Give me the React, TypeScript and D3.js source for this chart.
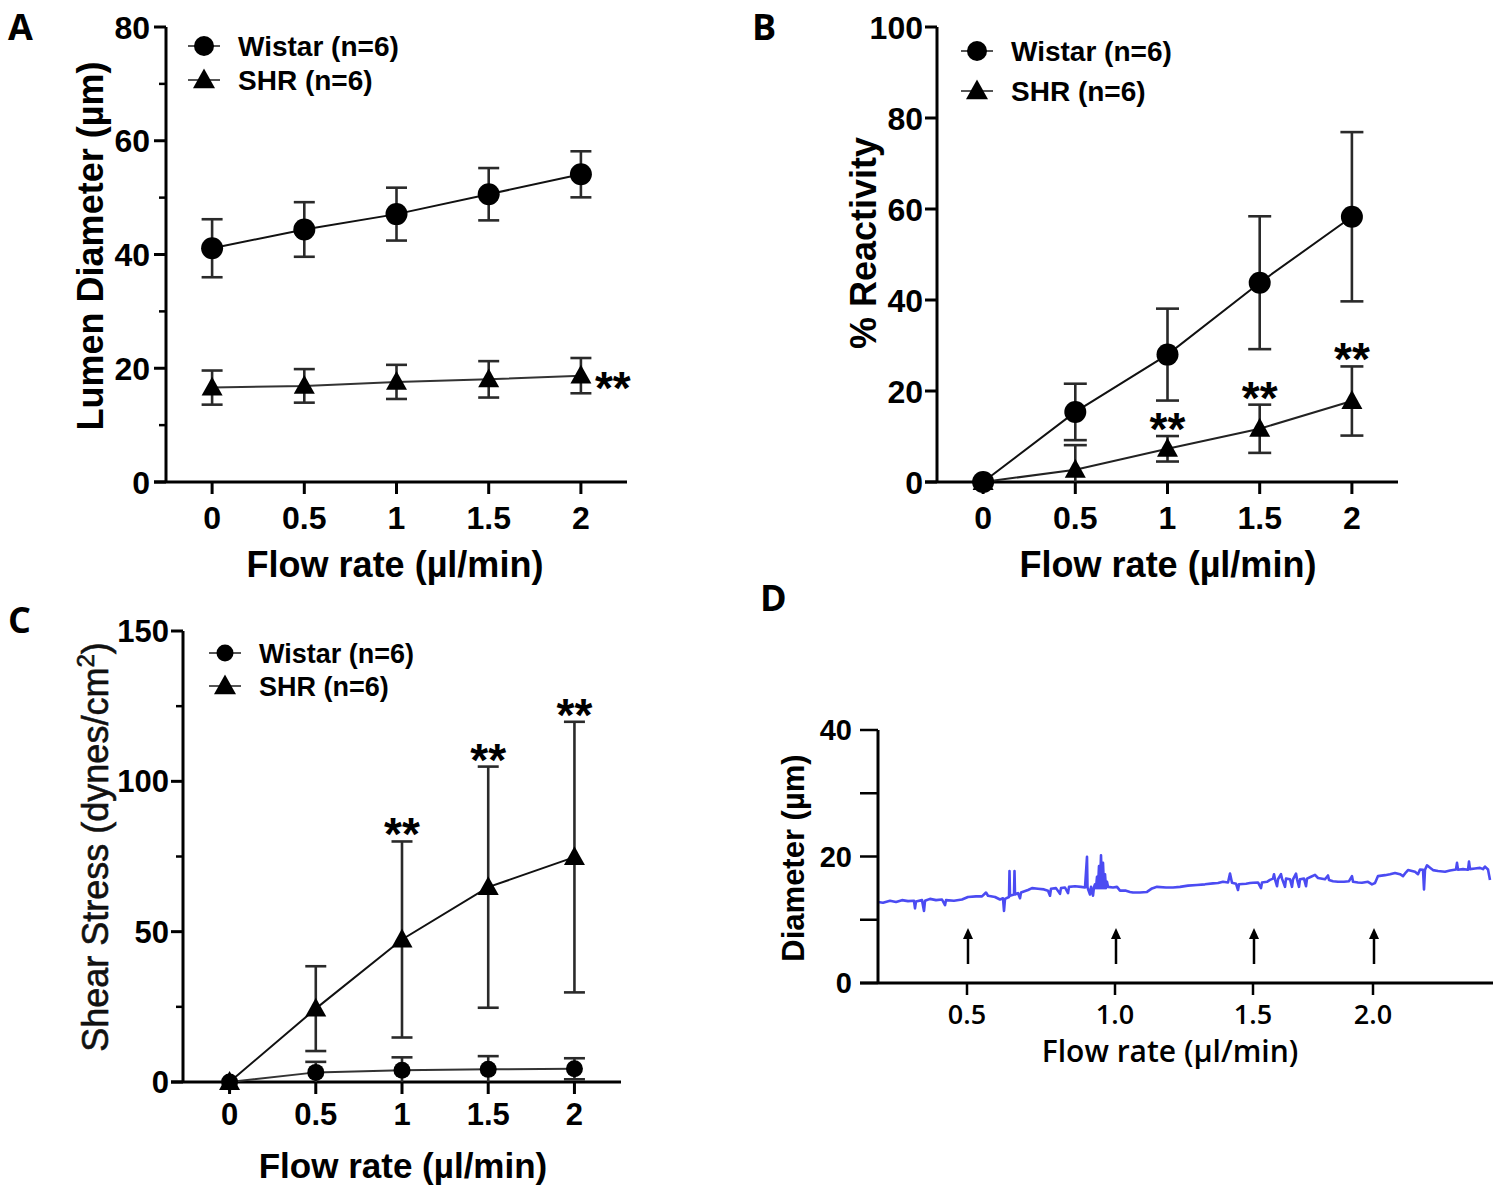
import React from "react";
import * as d3 from "d3";

// ---------- Data ----------
const flowRates = [0, 0.5, 1, 1.5, 2];
const flowTickLabels = ["0", "0.5", "1", "1.5", "2"];

// Panel A: lumen diameter (µm)
const lumenWistar = [41.1, 44.4, 47.1, 50.6, 54.1];
const lumenWistarErr = [5.1, 4.8, 4.65, 4.6, 4.05];
const lumenShr = [16.6, 16.9, 17.6, 18.05, 18.7];
const lumenShrErr = [3.0, 2.95, 3.0, 3.2, 3.1];
const lumenSig = [4];

// Panel B: % reactivity
const reactWistar = [0, 15.4, 28.0, 43.8, 58.3];
const reactWistarErr = [0, 6.2, 10.1, 14.6, 18.6];
const reactShr = [0, 2.7, 7.3, 11.7, 17.8];
const reactShrErr = [0, 5.4, 2.8, 5.3, 7.6];
const reactSig = [2, 3, 4];

// Panel C: shear stress (dynes/cm2)
const shearWistar = [0, 3.2, 3.9, 4.2, 4.4];
const shearWistarErr = [0, 3.5, 4.3, 4.4, 3.5];
const shearShr = [0, 24.4, 47.4, 64.8, 74.8];
const shearShrErr = [0, 14.1, 32.6, 40.1, 45.0];
const shearSig = [2, 3, 4];

// Panel D: diameter trace (recording time, µm)
const traceTime = [
  0, 5, 12, 18, 24, 30, 36, 37, 38, 44, 46, 47, 52, 58, 64, 67, 68, 76, 84, 90,
  98, 104, 108, 110, 117, 122, 125, 126, 127, 131, 131.5, 132, 136, 136.5, 137, 140, 142, 143, 150, 154,
  160, 166, 170, 172, 173, 178, 182, 183, 187, 190, 191, 197, 203, 207, 209, 209.5, 212, 213, 215, 216,
  217, 218, 219, 220, 221, 222, 223, 224, 225, 226, 227, 228, 229, 230, 235, 239, 242, 248, 252, 255,
  262, 269, 274, 279, 288, 295, 302, 310, 319, 327, 335, 340, 345, 350, 352, 354, 358, 360, 361, 368,
  372, 375, 380, 383, 384, 389, 392, 395, 396, 397, 399, 400, 403, 404, 407, 408, 412, 414, 415, 418,
  419, 421, 422, 426, 428, 429, 433, 437, 440, 447, 450, 451, 455, 460, 466, 471, 474, 475, 480, 484,
  490, 494, 497, 500, 507, 512, 517, 522, 525, 528, 530, 537, 540, 542, 545, 546, 547, 549, 553, 555,
  560, 567, 572, 578, 579, 580, 585, 590, 591, 592, 597, 602, 605, 607, 610, 612,
];
const traceDiameter = [
  12.8, 12.7, 13.0, 12.8, 13.1, 12.95, 13.0, 11.8, 12.9, 13.1, 11.4, 13.0, 13.3, 13.1, 13.2, 12.3, 13.1, 13.0, 13.2, 13.6,
  13.7, 13.7, 14.3, 13.8, 13.6, 13.2, 13.4, 11.4, 13.3, 13.6, 17.7, 13.8, 14.0, 17.7, 14.0, 14.2, 13.4, 14.3, 14.7, 15.0,
  14.9, 14.8, 14.6, 13.8, 14.9, 15.0, 14.1, 15.0, 15.1, 14.2, 15.2, 15.3, 15.2, 15.1, 19.95, 15.1, 14.0, 15.2, 13.8, 15.2,
  15.6, 15.0, 16.8, 15.0, 18.5, 15.0, 20.2, 15.0, 19.0, 15.0, 17.2, 15.0, 16.0, 15.2, 15.1, 15.2, 14.6, 14.6, 14.4, 14.3,
  14.3, 14.4, 14.95, 15.2, 15.1, 15.1, 15.2, 15.4, 15.5, 15.6, 15.75, 15.8, 16.0, 15.9, 17.3, 15.85, 15.7, 14.7, 15.6, 15.7,
  15.8, 15.85, 15.9, 15.0, 15.9, 16.0, 16.3, 16.5, 17.2, 16.4, 15.3, 16.4, 17.2, 16.5, 15.2, 16.5, 16.4, 15.2, 16.4, 17.3,
  16.4, 15.2, 16.4, 16.5, 15.3, 16.5, 16.8, 17.1, 16.6, 16.4, 17.0, 16.3, 16.1, 16.0, 16.0, 16.1, 16.9, 16.0, 15.9, 15.85,
  16.0, 15.6, 15.8, 16.9, 17.05, 17.2, 17.4, 17.2, 16.9, 17.5, 17.85, 17.6, 17.2, 17.95, 17.9, 14.8, 17.9, 18.6, 18.1, 17.85,
  17.7, 17.6, 17.8, 17.95, 19.0, 17.9, 18.0, 17.9, 19.2, 18.0, 18.1, 18.2, 18.0, 18.4, 17.95, 16.3,
];
const traceTickTimes = [89, 237, 375, 495];
const traceTickLabels = ["0.5", "1.0", "1.5", "2.0"];

// ---------- Helpers ----------
const FONT = "'Liberation Sans', Arial, Helvetica, sans-serif";
const FONT2 = "'Open Sans', 'Liberation Sans', sans-serif";
const STAR_SIZE = 46;

function triPath(cx: number, cy: number, w: number, h: number) {
  return `M${cx},${cy - h * 0.58} L${cx + w / 2},${cy + h * 0.42} L${cx - w / 2},${cy + h * 0.42} Z`;
}

type Series = {
  values: number[];
  errs: number[];
  marker: "circle" | "triangle";
  r: number;
  lineColor: string;
};

type PanelProps = {
  x: d3.ScaleLinear<number, number>;
  y: d3.ScaleLinear<number, number>;
  majorTicks: number[];
  minorTicks: number[];
  tickFont: number;
  tickLabelDy: number;
  yLabelGap: number;
  series: Series[];
  sigIdx: number[];
  sigMode: "right" | "above";
  sigSeries: number;
  capW: number;
};

function ErrorBars({ x, y, s, capW }: { x: any; y: any; s: Series; capW: number }) {
  return (
    <g stroke="#2a2a2a" strokeWidth={2.6} fill="none">
      {flowRates.map((f, i) => {
        const e = s.errs[i];
        if (!e) return null;
        const cx = x(f);
        const top = y(s.values[i] + e);
        const lowV = s.values[i] - e;
        const bot = y(Math.max(0, lowV));
        return (
          <g key={i}>
            <line x1={cx} x2={cx} y1={top} y2={bot} />
            <line x1={cx - capW / 2} x2={cx + capW / 2} y1={top} y2={top} />
            {lowV > 0 && <line x1={cx - capW / 2} x2={cx + capW / 2} y1={bot} y2={bot} />}
          </g>
        );
      })}
    </g>
  );
}

function Markers({ x, y, s }: { x: any; y: any; s: Series }) {
  return (
    <g fill="#000">
      {flowRates.map((f, i) =>
        s.marker === "circle" ? (
          <circle key={i} cx={x(f)} cy={y(s.values[i])} r={s.r} />
        ) : (
          <path key={i} d={triPath(x(f), y(s.values[i]), s.r * 2, s.r * 1.8)} />
        )
      )}
    </g>
  );
}

function Panel(p: PanelProps) {
  const { x, y } = p;
  const x0 = x.range()[0];
  const x1 = x.range()[1];
  const y0 = y.range()[0];
  const y1 = y.range()[1];
  const line = d3
    .line<number>()
    .x((_, i) => x(flowRates[i]))
    .y((v) => y(v));
  const sig = p.series[p.sigSeries];
  return (
    <g>
      <line x1={x0} x2={x0} y1={y1} y2={y0} stroke="#000" strokeWidth={3} />
      <line x1={x0 - 12} x2={x1} y1={y0} y2={y0} stroke="#000" strokeWidth={3} />
      {p.majorTicks.map((t) => (
        <g key={"M" + t}>
          <line x1={x0 - 12} x2={x0} y1={y(t)} y2={y(t)} stroke="#000" strokeWidth={3} />
          <text
            x={x0 - p.yLabelGap}
            y={y(t)}
            dy="0.36em"
            textAnchor="end"
            fontFamily={FONT}
            fontWeight="bold"
            fontSize={p.tickFont}
          >
            {t}
          </text>
        </g>
      ))}
      {p.minorTicks.map((t) => (
        <line key={"m" + t} x1={x0 - 7} x2={x0} y1={y(t)} y2={y(t)} stroke="#000" strokeWidth={2.5} />
      ))}
      {flowRates.map((f, i) => (
        <g key={"x" + f}>
          <line x1={x(f)} x2={x(f)} y1={y0} y2={y0 + 12} stroke="#000" strokeWidth={3} />
          <text
            x={x(f)}
            y={y0 + p.tickLabelDy}
            textAnchor="middle"
            fontFamily={FONT}
            fontWeight="bold"
            fontSize={p.tickFont}
          >
            {flowTickLabels[i]}
          </text>
        </g>
      ))}
      {p.series.map((s, k) => (
        <ErrorBars key={"e" + k} x={x} y={y} s={s} capW={p.capW} />
      ))}
      {p.series.map((s, k) => (
        <path key={"l" + k} d={line(s.values) || ""} fill="none" stroke={s.lineColor} strokeWidth={2} />
      ))}
      {p.series.map((s, k) => (
        <Markers key={"k" + k} x={x} y={y} s={s} />
      ))}
      {p.sigIdx.map((i) =>
        p.sigMode === "right" ? (
          <text
            key={"s" + i}
            x={x(flowRates[i]) + 14}
            y={y(sig.values[i]) + 28}
            fontFamily={FONT}
            fontWeight="bold"
            fontSize={STAR_SIZE}
          >
            **
          </text>
        ) : (
          <text
            key={"s" + i}
            x={x(flowRates[i])}
            y={y(sig.values[i] + sig.errs[i]) + 9}
            textAnchor="middle"
            fontFamily={FONT}
            fontWeight="bold"
            fontSize={STAR_SIZE}
          >
            **
          </text>
        )
      )}
    </g>
  );
}

function Legend({
  x,
  y,
  gap,
  fontSize,
  circleR,
  tri,
}: {
  x: number;
  y: number;
  gap: number;
  fontSize: number;
  circleR: number;
  tri: number;
}) {
  return (
    <g>
      <line x1={x - 16} x2={x + 16} y1={y} y2={y} stroke="#555" strokeWidth={2} />
      <circle cx={x} cy={y} r={circleR} fill="#000" />
      <text x={x + 34} y={y + fontSize * 0.36} fontFamily={FONT} fontWeight="bold" fontSize={fontSize}>
        Wistar (n=6)
      </text>
      <line x1={x - 16} x2={x + 16} y1={y + gap} y2={y + gap} stroke="#555" strokeWidth={2} />
      <path d={triPath(x, y + gap, tri, tri * 0.9)} fill="#000" />
      <text x={x + 34} y={y + gap + fontSize * 0.36} fontFamily={FONT} fontWeight="bold" fontSize={fontSize}>
        SHR (n=6)
      </text>
    </g>
  );
}

export default function App() {
  const xA = d3.scaleLinear().domain([-0.25, 2.25]).range([166, 627]);
  const yA = d3.scaleLinear().domain([0, 80]).range([482, 27]);
  const xB = d3.scaleLinear().domain([-0.25, 2.25]).range([937, 1398]);
  const yB = d3.scaleLinear().domain([0, 100]).range([482, 27]);
  const xC = d3.scaleLinear().domain([-0.27, 2.27]).range([183, 621]);
  const yC = d3.scaleLinear().domain([0, 150]).range([1082, 631]);
  const xD = d3.scaleLinear().domain([0, 615]).range([878, 1493]);
  const yD = d3.scaleLinear().domain([0, 40]).range([983, 730]);

  const traceLine = d3
    .line<number>()
    .x((_, i) => xD(traceTime[i]))
    .y((v) => yD(v));

  const labelStyle = { fontFamily: FONT, fontWeight: "bold" as const };

  return (
    <svg
      width={1500}
      height={1197}
      viewBox="0 0 1500 1197"
      style={{ position: "absolute", left: 0, top: 0, background: "#fff" }}
    >
      <rect width={1500} height={1197} fill="#fff" />
      <text x={8} y={40} fontFamily={FONT2} fontWeight="bold" fontSize={36}>A</text>
      <text x={752} y={40} fontFamily={FONT2} fontWeight="bold" fontSize={36}>B</text>
      <text x={8} y={633} fontFamily={FONT2} fontWeight="bold" fontSize={36}>C</text>
      <text x={760} y={611} fontFamily={FONT2} fontWeight="bold" fontSize={36}>D</text>

      {/* Panel A */}
      <Panel
        x={xA}
        y={yA}
        majorTicks={[0, 20, 40, 60, 80]}
        minorTicks={[10, 30, 50, 70]}
        tickFont={32}
        tickLabelDy={47}
        yLabelGap={16}
        capW={21}
        series={[
          { values: lumenWistar, errs: lumenWistarErr, marker: "circle", r: 11, lineColor: "#111" },
          { values: lumenShr, errs: lumenShrErr, marker: "triangle", r: 10.5, lineColor: "#333" },
        ]}
        sigIdx={lumenSig}
        sigMode="right"
        sigSeries={1}
      />
      <Legend x={204} y={46} gap={34} fontSize={28} circleR={10} tri={22} />
      <text x={395} y={577} textAnchor="middle" fontSize={36} {...labelStyle}>
        Flow rate (µl/min)
      </text>
      <text transform="translate(103,246) rotate(-90)" textAnchor="middle" fontSize={36} {...labelStyle}>
        Lumen Diameter (µm)
      </text>

      {/* Panel B */}
      <Panel
        x={xB}
        y={yB}
        majorTicks={[0, 20, 40, 60, 80, 100]}
        minorTicks={[]}
        tickFont={32}
        tickLabelDy={47}
        yLabelGap={14}
        capW={23}
        series={[
          { values: reactWistar, errs: reactWistarErr, marker: "circle", r: 11, lineColor: "#111" },
          { values: reactShr, errs: reactShrErr, marker: "triangle", r: 10.5, lineColor: "#222" },
        ]}
        sigIdx={reactSig}
        sigMode="above"
        sigSeries={1}
      />
      <Legend x={977} y={51} gap={40} fontSize={28} circleR={10} tri={22} />
      <text x={1168} y={577} textAnchor="middle" fontSize={36} {...labelStyle}>
        Flow rate (µl/min)
      </text>
      <text transform="translate(876,243) rotate(-90)" textAnchor="middle" fontSize={36} {...labelStyle}>
        % Reactivity
      </text>

      {/* Panel C */}
      <Panel
        x={xC}
        y={yC}
        majorTicks={[0, 50, 100, 150]}
        minorTicks={[25, 75, 125]}
        tickFont={31}
        tickLabelDy={43}
        yLabelGap={14}
        capW={21}
        series={[
          { values: shearWistar, errs: shearWistarErr, marker: "circle", r: 8.5, lineColor: "#333" },
          { values: shearShr, errs: shearShrErr, marker: "triangle", r: 10.5, lineColor: "#111" },
        ]}
        sigIdx={shearSig}
        sigMode="above"
        sigSeries={1}
      />
      <Legend x={225} y={653} gap={33} fontSize={27} circleR={8.5} tri={22} />
      <text x={403} y={1178} textAnchor="middle" fontSize={35} {...labelStyle}>
        Flow rate (µl/min)
      </text>
      <text
        transform="translate(108,847) rotate(-90)"
        textAnchor="middle"
        fontSize={36}
        fontFamily={FONT}
        fill="#111"
        stroke="#111"
        strokeWidth={0.6}
      >
        Shear Stress (dynes/cm<tspan dy={-14} fontSize={24}>2</tspan>
        <tspan dy={14}>)</tspan>
      </text>

      {/* Panel D */}
      <g>
        <path d={traceLine(traceDiameter) || ""} fill="none" stroke="#4b4bf2" strokeWidth={2.6} strokeLinejoin="round" />
        <line x1={878} x2={878} y1={yD(40)} y2={yD(0)} stroke="#000" strokeWidth={3} />
        <line x1={860} x2={xD.range()[1]} y1={yD(0)} y2={yD(0)} stroke="#000" strokeWidth={3} />
        {[0, 10, 20, 30, 40].map((t) => (
          <line key={t} x1={860} x2={878} y1={yD(t)} y2={yD(t)} stroke="#000" strokeWidth={2.5} />
        ))}
        {[0, 20, 40].map((t) => (
          <text key={t} x={852} y={yD(t)} dy="0.36em" textAnchor="end" fontFamily={FONT} fontWeight="bold" fontSize={29}>
            {t}
          </text>
        ))}
        {traceTickTimes.map((t, i) => (
          <g key={t}>
            <line x1={xD(t)} x2={xD(t)} y1={yD(0)} y2={yD(0) + 12} stroke="#000" strokeWidth={2.5} />
            <text x={xD(t)} y={yD(0) + 41} textAnchor="middle" fontFamily={FONT2} fontWeight={600} fontSize={27}>
              {traceTickLabels[i]}
            </text>
            <line x1={xD(t) + 1} x2={xD(t) + 1} y1={yD(0) - 19} y2={yD(0) - 48} stroke="#000" strokeWidth={2.5} />
            <path
              d={`M${xD(t) + 1},${yD(0) - 55} L${xD(t) + 6},${yD(0) - 44} L${xD(t) - 4},${yD(0) - 44} Z`}
              fill="#000"
            />
          </g>
        ))}
        <text x={1170} y={1062} textAnchor="middle" fontFamily={FONT2} fontWeight={600} fontSize={30}>
          Flow rate (µl/min)
        </text>
        <text transform="translate(804,858) rotate(-90)" textAnchor="middle" fontSize={31} {...labelStyle}>
          Diameter (µm)
        </text>
      </g>
    </svg>
  );
}
